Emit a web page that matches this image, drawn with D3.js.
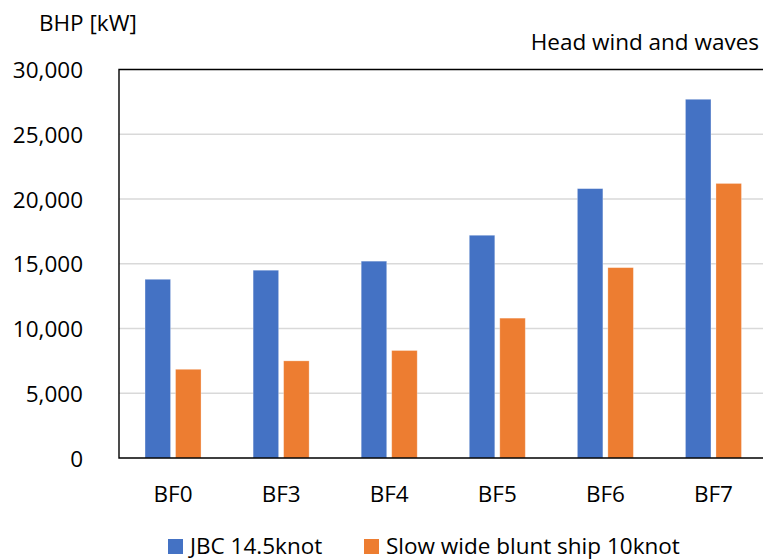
<!DOCTYPE html>
<html>
<head>
<meta charset="utf-8">
<script src="https://cdn.jsdelivr.net/npm/d3@7"></script>
<style>
  html, body { margin: 0; padding: 0; background: #fff; }
  svg { display: block; }
  text { font-family: "Open Sans", Lato, sans-serif; fill: #000; }
</style>
</head>
<body>
<svg id="chart" width="763" height="560"></svg>
<script>
// Beaufort conditions on the category axis
const categories = ["BF0", "BF3", "BF4", "BF5", "BF6", "BF7"];
// Brake horsepower [kW] for each ship
const seriesNames = ["JBC 14.5knot", "Slow wide blunt ship 10knot"];
const jbcValues = [13800, 14500, 15200, 17200, 20800, 27700];
const slowValues = [6850, 7500, 8300, 10800, 14700, 21200];
const yTicks = [0, 5000, 10000, 15000, 20000, 25000, 30000];
const seriesColors = ["#4472C4", "#ED7D31"];

const svg = d3.select("#chart");
const fontFamily = "'Open Sans', Lato, sans-serif";
const fontSize = 22.5;

const plot = { left: 119, right: 767.5, top: 69.5, bottom: 458 };

const y = d3.scaleLinear().domain([0, 30000]).range([plot.bottom, plot.top]);
const x0 = d3.scaleBand().domain(categories).range([plot.left, plot.right]).padding(0);
const x1 = d3.scaleBand().domain(seriesNames).range([0, x0.bandwidth()])
  .paddingInner(0.164).paddingOuter(0.854);

// horizontal gridlines
svg.append("g")
  .selectAll("line")
  .data(yTicks.filter(t => t > 0 && t < 30000))
  .join("line")
  .attr("x1", plot.left).attr("x2", 763)
  .attr("y1", d => y(d)).attr("y2", d => y(d))
  .attr("stroke", "#d9d9d9").attr("stroke-width", 1.3);

// bars
const rows = categories.map((c, i) => ({ cat: c, vals: [jbcValues[i], slowValues[i]] }));
svg.append("g")
  .selectAll("g")
  .data(rows)
  .join("g")
  .attr("transform", d => `translate(${x0(d.cat)},0)`)
  .selectAll("rect")
  .data(d => d.vals.map((v, j) => ({ name: seriesNames[j], v, color: seriesColors[j] })))
  .join("rect")
  .attr("x", d => x1(d.name))
  .attr("width", x1.bandwidth())
  .attr("y", d => y(d.v))
  .attr("height", d => y(0) - y(d.v))
  .attr("fill", d => d.color)
  .attr("stroke", "#ffffff").attr("stroke-opacity", 0.35).attr("stroke-width", 0.8);

// plot frame (top, left, bottom)
const frame = d3.path();
frame.moveTo(763, plot.top);
frame.lineTo(plot.left, plot.top);
frame.lineTo(plot.left, plot.bottom);
frame.lineTo(763, plot.bottom);
svg.append("path").attr("d", frame.toString())
  .attr("fill", "none").attr("stroke", "#000").attr("stroke-width", 1.4);

// y axis labels
const yAxis = d3.axisLeft(y).tickValues(yTicks).tickSize(0).tickPadding(0)
  .tickFormat(d3.format(","));
const gy = svg.append("g").attr("transform", "translate(83,0)").call(yAxis);
gy.select(".domain").remove();
gy.selectAll("text").attr("font-size", fontSize).attr("font-family", fontFamily)
  .attr("fill", "#000").attr("dy", "0.36em");

// x axis labels
const xAxis = d3.axisBottom(x0).tickSize(0).tickPadding(0);
const gx = svg.append("g").attr("transform", "translate(0,485.5)").call(xAxis);
gx.select(".domain").remove();
gx.selectAll("text").attr("font-size", fontSize).attr("font-family", fontFamily)
  .attr("fill", "#000").attr("dy", "0.72em");

// titles
svg.append("text").attr("x", 39).attr("y", 31).attr("font-size", fontSize).text("BHP [kW]");
svg.append("text").attr("x", 759).attr("y", 50).attr("text-anchor", "end")
  .attr("font-size", fontSize).text("Head wind and waves");

// legend
const legendX = [168, 364];
const legend = svg.append("g");
seriesNames.forEach((name, i) => {
  legend.append("rect").attr("x", legendX[i]).attr("y", 539).attr("width", 15).attr("height", 15)
    .attr("fill", seriesColors[i]);
  legend.append("text").attr("x", legendX[i] + 22).attr("y", 553.5).attr("font-size", fontSize).text(name);
});
</script>
</body>
</html>
